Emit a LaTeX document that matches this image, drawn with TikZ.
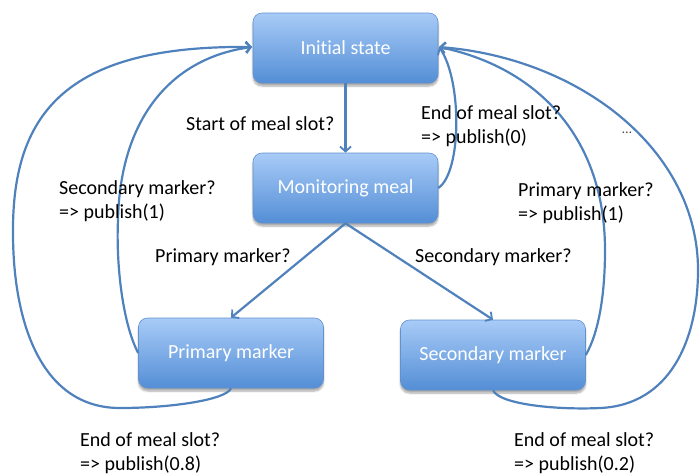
\documentclass[tikz,border=0pt]{standalone}
\usepackage{fontspec}
\setmainfont{Carlito}[Ligatures={NoCommon}]
\usetikzlibrary{arrows.meta,shadows.blur}
\definecolor{lineblue}{RGB}{79,129,189}
\definecolor{boxtop}{RGB}{168,203,247}
\definecolor{boxbot}{RGB}{84,142,214}
\definecolor{boxedge}{RGB}{98,146,206}
\begin{document}
\begin{tikzpicture}[x=1pt,y=-1pt,
  statebox/.style={rectangle, rounded corners=9pt, minimum width=185pt, minimum height=70pt,
    top color=boxtop, bottom color=boxbot, draw=boxedge, line width=0.6pt,
    text=white, font=\fontsize{20}{24}\selectfont,
    blur shadow={shadow blur steps=6, shadow xshift=0pt, shadow yshift=-3pt, shadow opacity=35}},
  lbl/.style={inner sep=0pt, anchor=west, align=left, font=\fontsize{20}{24}\selectfont, text=black},
  conn/.style={draw=lineblue, line width=2.2pt},
  arr/.style={conn, -{Straight Barb[length=5pt,width=11pt,line width=1.8pt]}}
]
\useasboundingbox (0,0) rectangle (700,475);

\node[statebox] (init) at (345.5,48) {Initial state};
\node[statebox] (mon) at (345.5,188) {Monitoring meal};
\node[statebox] (prim) at (231,353) {Primary marker};
\node[statebox] (sec) at (493,355) {Secondary marker};

\coordinate (iw) at (252,47);
\coordinate (ie) at (439,47);

% straight transitions
\draw[arr] (init.south) -- (mon.north);
\draw[arr] (mon.south) -- (prim.north);
\draw[arr] (mon.south) -- (sec.north);

% monitoring -> initial (end of meal slot)
\draw[arr] (mon.east) .. controls (462,172) and (462,80) .. (ie);

% primary -> initial (secondary marker)
\draw[arr] (prim.west) .. controls (122,322) and (116,262) .. (118,220)
  .. controls (120,120) and (170,58) .. (iw);

% primary -> initial (end of meal slot, outer)
\draw[arr] (prim.south) .. controls (226,400) and (170,408) .. (120,408)
  .. controls (40,408) and (13,320) .. (13,233)
  .. controls (12,110) and (70,45) .. (iw);

% secondary -> initial (primary marker)
\draw[arr] (sec.east) .. controls (600,330) and (605,290) .. (605,250)
  .. controls (605,140) and (540,68) .. (ie);

% secondary -> initial (end of meal slot, outer)
\draw[arr] (sec.south) .. controls (500,405) and (560,410) .. (600,408)
  .. controls (670,405) and (698,340) .. (698,270)
  .. controls (698,150) and (580,58) .. (ie);

% labels
\node[lbl] (l1) at (186,124) {Start of meal slot?};
\node[lbl] (l2) at (421,126) {End of meal slot?\\=> publish(0)};
\node[lbl, text=black!70] (l3) at (622,133) {\fontsize{14}{16}\selectfont …};
\node[lbl] (l4) at (59,201.5) {Secondary marker?\\=> publish(1)};
\node[lbl] (l5) at (518,203.5) {Primary marker?\\=> publish(1)};
\node[lbl] (l6) at (155,257) {Primary marker?};
\node[lbl] (l7) at (415,257) {Secondary marker?};
\node[lbl] (l8) at (80,453) {End of meal slot?\\=> publish(0.8)};
\node[lbl] (l9) at (514,453) {End of meal slot?\\=> publish(0.2)};
\end{tikzpicture}
\end{document}
